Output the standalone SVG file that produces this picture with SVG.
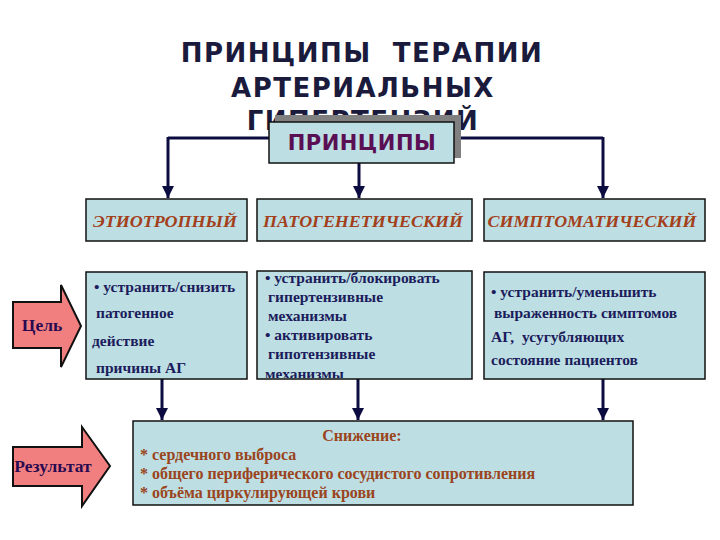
<svg xmlns="http://www.w3.org/2000/svg" width="720" height="540" viewBox="0 0 720 540">
<defs>
<style>
.title{font-family:"DejaVu Sans","Liberation Sans",sans-serif;font-weight:bold;font-size:26px;fill:#1a1a3c;text-anchor:middle;letter-spacing:1.5px}
.box{fill:#bddfe3;stroke:#111;stroke-width:1.5}
.head{font-family:"Liberation Serif",serif;font-weight:bold;font-style:italic;font-size:17px;fill:#a3401c;text-anchor:middle}
.body{font-family:"Liberation Serif",serif;font-weight:bold;font-size:15.5px;fill:#1c1c5c}
.res{font-family:"Liberation Serif",serif;font-weight:bold;font-size:16px;fill:#9a4420}
.lbl{font-family:"Liberation Serif",serif;font-weight:bold;font-size:17.5px;fill:#2a0a50}
.conn{stroke:#0c0c40;stroke-width:3;fill:none}
.arrow{fill:#f27f7f;stroke:#111;stroke-width:2;stroke-linejoin:miter}
</style>
<marker id="ah" viewBox="0 0 10 10" refX="10" refY="5" markerWidth="4" markerHeight="4" orient="auto" markerUnits="strokeWidth">
<path d="M0,0 L10,5 L0,10 z" fill="#0c0c40"/>
</marker>
</defs>
<rect width="720" height="540" fill="#fff"/>

<g id="title">
<text class="title" x="362" y="62" xml:space="preserve">ПРИНЦИПЫ  ТЕРАПИИ</text>
<text class="title" x="363" y="97">АРТЕРИАЛЬНЫХ</text>
<text class="title" x="363" y="130">ГИПЕРТЕНЗИЙ</text>
</g>

<g id="connectors">
<path class="conn" d="M168,138 H603"/>
<path class="conn" d="M168,137 V198" marker-end="url(#ah)"/>
<path class="conn" d="M603,137 V198" marker-end="url(#ah)"/>
<path class="conn" d="M359,163 V198" marker-end="url(#ah)"/>
<path class="conn" d="M162,379 V420" marker-end="url(#ah)"/>
<path class="conn" d="M358,379 V420" marker-end="url(#ah)"/>
<path class="conn" d="M603,379 V420" marker-end="url(#ah)"/>
</g>

<g id="principles">
<rect x="275" y="115" width="186" height="43" fill="#808080"/>
<rect class="box" x="269" y="122" width="185" height="41"/>
<text x="362" y="150" font-family="DejaVu Sans, Liberation Sans, sans-serif" font-weight="bold" font-size="21" fill="#5a0f55" text-anchor="middle" letter-spacing="0.5">ПРИНЦИПЫ</text>
</g>

<g id="etio">
<rect class="box" x="86" y="199" width="161" height="42"/>
<text class="head" x="165" y="227" textLength="144" lengthAdjust="spacingAndGlyphs">ЭТИОТРОПНЫЙ</text>
</g>
<g id="patho">
<rect class="box" x="257" y="199" width="215" height="42"/>
<text class="head" x="363" y="227" textLength="200" lengthAdjust="spacingAndGlyphs">ПАТОГЕНЕТИЧЕСКИЙ</text>
</g>
<g id="sympt">
<rect class="box" x="484" y="199" width="221" height="42"/>
<text class="head" x="592" y="227" textLength="209" lengthAdjust="spacingAndGlyphs">СИМПТОМАТИЧЕСКИЙ</text>
</g>

<g id="goal1">
<rect class="box" x="86" y="272" width="161" height="107"/>
<text class="body" x="94" y="292">• устранить/снизить</text>
<text class="body" x="96" y="318">патогенное</text>
<text class="body" x="92" y="346">действие</text>
<text class="body" x="96" y="373">причины АГ</text>
</g>
<g id="goal2">
<rect class="box" x="257" y="271" width="215" height="108"/>
<text class="body" x="265" y="283">• устранить/блокировать</text>
<text class="body" x="268" y="302">гипертензивные</text>
<text class="body" x="268" y="321">механизмы</text>
<text class="body" x="265" y="340">• активировать</text>
<text class="body" x="268" y="359">гипотензивные</text>
<svg x="257" y="271" width="215" height="107" overflow="hidden"><text class="body" x="8" y="108">механизмы</text></svg>
</g>
<g id="goal3">
<rect class="box" x="484" y="272" width="221" height="107"/>
<text class="body" x="491" y="297">• устранить/уменьшить</text>
<text class="body" x="494" y="318">выраженность симптомов</text>
<text class="body" x="491" y="342" xml:space="preserve">АГ,  усугубляющих</text>
<text class="body" x="491" y="365">состояние пациентов</text>
</g>

<g id="goal-arrow">
<path class="arrow" d="M13,302 H61 V285 L81,326 L61,367 V348 H13 Z"/>
<text class="lbl" x="42" y="331" text-anchor="middle">Цель</text>
</g>

<g id="result-arrow">
<path class="arrow" d="M13,447 H82 V427 L110,466 L82,506 V486 H13 Z"/>
<text class="lbl" x="53" y="472" text-anchor="middle">Результат</text>
</g>

<g id="result">
<rect class="box" x="133" y="421" width="500" height="84"/>
<text class="res" x="362" y="441" text-anchor="middle">Снижение:</text>
<text class="res" x="140" y="460">* сердечного выброса</text>
<text class="res" x="140" y="479">* общего периферического сосудистого сопротивления</text>
<text class="res" x="140" y="498">* объёма циркулирующей крови</text>
</g>
</svg>
